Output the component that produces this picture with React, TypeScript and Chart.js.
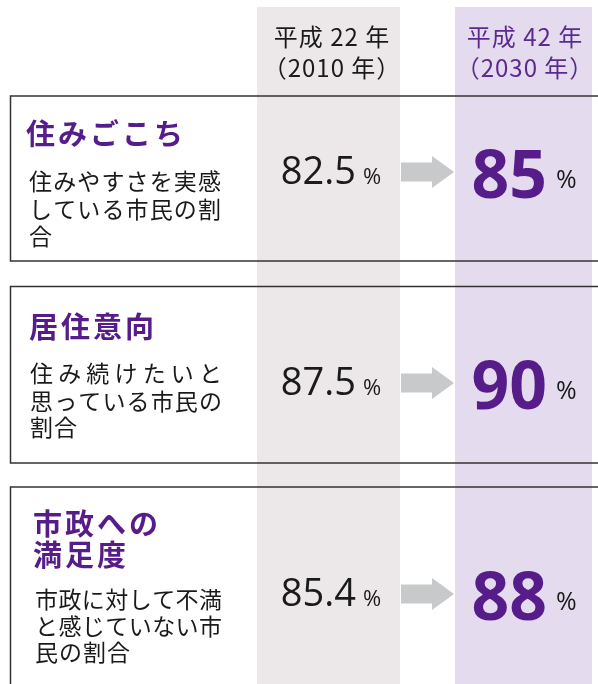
import React, { useEffect, useRef } from "react";
import { Chart, registerables } from "chart.js";

Chart.register(...registerables);

// ---------- data ----------
const indicators = ["住みごこち", "居住意向", "市政への満足度"];
const titleLines = [["住みごこち"], ["居住意向"], ["市政への", "満足度"]];
const descriptionLines = [
  ["住みやすさを実感", "している市民の割", "合"],
  ["住み続けたいと", "思っている市民の", "割合"],
  ["市政に対して不満", "と感じていない市", "民の割合"],
];
const years = ["2010", "2030"];
const yearLines = [
  ["平成 22 年", "（2010 年）"],
  ["平成 42 年", "（2030 年）"],
];
const values2010 = [82.5, 87.5, 85.4];
const values2030 = [85, 90, 88];
const unit = "%";

// ---------- style / layout ----------
const W = 598;
const H = 684;
const PURPLE = "#561c8a";
const PURPLE_HEAD = "#5b2a8e";
const TEXT = "#1a1a1a";
const GRAY_COL = "#ece8ea";
const LAV_COL = "#e4dcee";
const ARROW = "#c8c9ca";
const BOX_LINE = "#333333";
const JP = '"Noto Sans CJK JP", "Noto Sans", sans-serif';
const NUM = '"Open Sans", "Noto Sans", sans-serif';
const colExtents = [
  [-74, 69],
  [-69, 68],
];
const colTop = 7;
const boxes = [
  { top: 96, bottom: 261 },
  { top: 286.5, bottom: 463 },
  { top: 487, bottom: 760 },
];
const boxLeft = 10.5;
const titleLayout = [
  { x: 26, ys: [134] },
  { x: 29, ys: [327] },
  { x: 33, ys: [524, 555] },
];
const descLayout = [
  { x: 29, width: 192, ys: [181, 209, 236] },
  { x: 30, width: 192, ys: [373, 401, 427] },
  { x: 35, width: 187, ys: [599, 626, 652] },
];

function drawSpaced(ctx: CanvasRenderingContext2D, text: string, x: number, y: number, extra: number) {
  let cx = x;
  for (const ch of Array.from(text)) {
    ctx.fillText(ch, cx, y);
    cx += ctx.measureText(ch).width + extra;
  }
}

function drawJustified(ctx: CanvasRenderingContext2D, text: string, x: number, y: number, width: number) {
  const chars = Array.from(text);
  const lastW = ctx.measureText(chars[chars.length - 1]).width;
  const step = (width - lastW) / (chars.length - 1);
  chars.forEach((ch, i) => ctx.fillText(ch, x + i * step, y));
}

const infographicPlugin = {
  id: "infographic",
  beforeDraw(chart: any) {
    const ctx: CanvasRenderingContext2D = chart.ctx;
    const xs = chart.scales.x;
    ctx.save();
    ctx.fillStyle = "#ffffff";
    ctx.fillRect(0, 0, W, H);
    // column backgrounds
    years.forEach((_, j) => {
      const px = xs.getPixelForTick(j);
      ctx.fillStyle = j === 0 ? GRAY_COL : LAV_COL;
      ctx.fillRect(px + colExtents[j][0], colTop, colExtents[j][1] - colExtents[j][0], H - colTop);
    });
    // boxes
    ctx.strokeStyle = BOX_LINE;
    ctx.lineWidth = 1.5;
    boxes.forEach((b) => {
      ctx.beginPath();
      ctx.moveTo(W + 5, b.top);
      ctx.lineTo(boxLeft, b.top);
      ctx.lineTo(boxLeft, b.bottom);
      ctx.lineTo(W + 5, b.bottom);
      ctx.stroke();
    });
    // headers
    ctx.textAlign = "center";
    ctx.textBaseline = "middle";
    ctx.font = `24px ${JP}`;
    yearLines.forEach((lines, j) => {
      const px = xs.getPixelForTick(j) + 1;
      ctx.fillStyle = j === 0 ? TEXT : PURPLE_HEAD;
      lines.forEach((line, k) => {
        (ctx as any).letterSpacing = "1px";
        ctx.fillText(line, px, k === 0 ? 37 : 68);
        (ctx as any).letterSpacing = "0px";
      });
    });
    // titles & descriptions
    ctx.textAlign = "left";
    indicators.forEach((_, i) => {
      ctx.fillStyle = PURPLE;
      ctx.font = `bold 29px ${JP}`;
      titleLines[i].forEach((line, k) => {
        drawSpaced(ctx, line, titleLayout[i].x, titleLayout[i].ys[k], 3);
      });
      ctx.fillStyle = TEXT;
      ctx.font = `23px ${JP}`;
      const d = descLayout[i];
      descriptionLines[i].forEach((line, k) => {
        const isLast = k === descriptionLines[i].length - 1;
        if (!isLast) drawJustified(ctx, line, d.x, d.ys[k], d.width);
        else drawSpaced(ctx, line, d.x, d.ys[k], 1);
      });
    });
    ctx.restore();
  },
  afterDatasetsDraw(chart: any) {
    const ctx: CanvasRenderingContext2D = chart.ctx;
    const xs = chart.scales.x;
    const m0 = chart.getDatasetMeta(0);
    const m1 = chart.getDatasetMeta(1);
    ctx.save();
    // arrows
    const left = xs.getPixelForTick(0) + colExtents[0][1] + 1;
    const right = xs.getPixelForTick(1) + colExtents[1][0] - 1;
    ctx.fillStyle = ARROW;
    m0.data.forEach((pt: any) => {
      const cy = pt.y - 1;
      const headX = right - 22;
      ctx.beginPath();
      ctx.moveTo(left, cy - 9.5);
      ctx.lineTo(headX, cy - 9.5);
      ctx.lineTo(headX, cy - 16);
      ctx.lineTo(right, cy);
      ctx.lineTo(headX, cy + 16);
      ctx.lineTo(headX, cy + 9.5);
      ctx.lineTo(left, cy + 9.5);
      ctx.closePath();
      ctx.fill();
    });
    ctx.textAlign = "left";
    ctx.textBaseline = "alphabetic";
    const group = (
      numText: string,
      numFont: string,
      numColor: string,
      unitFont: string,
      cx: number,
      numBase: number,
      unitBase: number,
      gap: number
    ) => {
      ctx.font = numFont;
      const nw = ctx.measureText(numText).width;
      ctx.font = unitFont;
      const uw = ctx.measureText(unit).width;
      const x0 = cx - (nw + gap + uw) / 2;
      ctx.font = numFont;
      ctx.fillStyle = numColor;
      ctx.fillText(numText, x0, numBase);
      ctx.font = unitFont;
      ctx.fillStyle = TEXT;
      ctx.fillText(unit, x0 + nw + gap, unitBase);
    };
    m0.data.forEach((pt: any, i: number) => {
      group(values2010[i].toFixed(1), `38px ${NUM}`, TEXT, `22px ${NUM}`, pt.x, pt.y + 11, pt.y + 11, 7);
    });
    m1.data.forEach((pt: any, i: number) => {
      group(String(values2030[i]), `bold 66px ${NUM}`, PURPLE, `25px ${NUM}`, pt.x, pt.y + 25, pt.y + 15, 9);
    });
    ctx.restore();
  },
};

export default function App() {
  const ref = useRef<HTMLCanvasElement | null>(null);
  useEffect(() => {
    if (!ref.current) return;
    const chart = new Chart(ref.current, {
      type: "scatter",
      data: {
        datasets: [
          {
            label: years[0],
            data: indicators.map((ind) => ({ x: years[0], y: ind })) as any,
            pointRadius: 0,
            pointHoverRadius: 0,
          },
          {
            label: years[1],
            data: indicators.map((ind) => ({ x: years[1], y: ind })) as any,
            pointRadius: 0,
            pointHoverRadius: 0,
          },
        ],
      },
      options: {
        animation: false,
        responsive: false,
        devicePixelRatio: 1,
        layout: { padding: { left: 331, right: 74, top: 173, bottom: 89 } },
        scales: {
          x: { type: "category", labels: years, offset: false, display: false },
          y: { type: "category", labels: indicators, offset: false, display: false },
        },
        plugins: {
          legend: { display: false },
          tooltip: { enabled: false },
        },
        events: [],
      },
      plugins: [infographicPlugin],
    });
    return () => chart.destroy();
  }, []);
  return (
    <div style={{ position: "absolute", left: 0, top: 0, width: W, height: H, background: "#fff" }}>
      <canvas ref={ref} width={W} height={H} style={{ display: "block", width: W, height: H }} />
    </div>
  );
}
